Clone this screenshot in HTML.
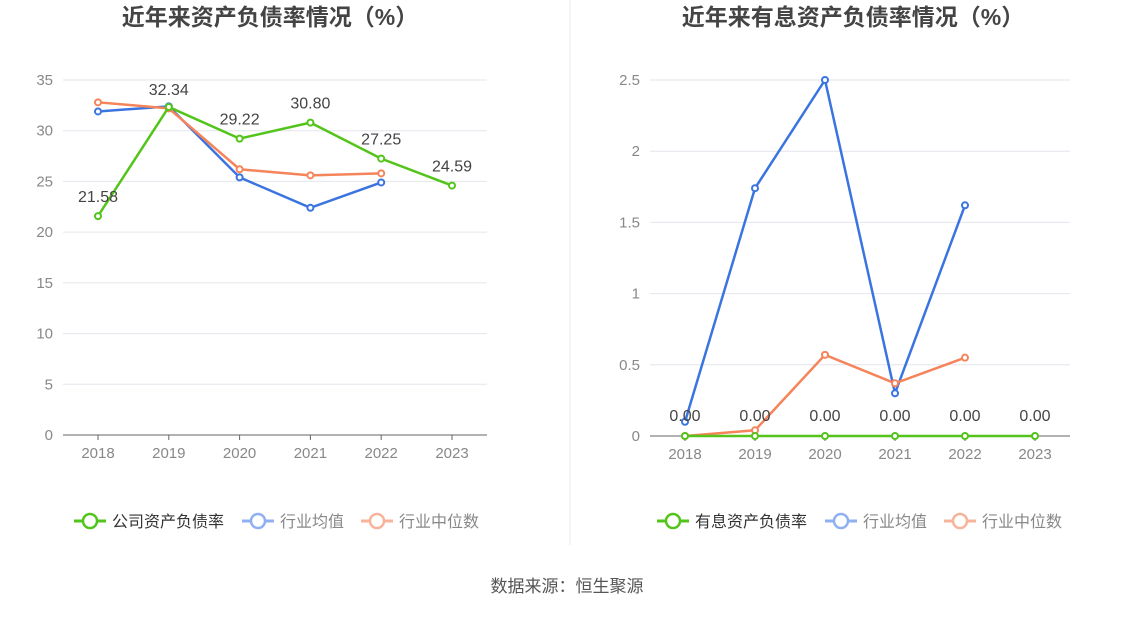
<!DOCTYPE html>
<html><head><meta charset="utf-8">
<style>
body{margin:0;background:#fff;font-family:"Liberation Sans","Noto Sans CJK SC",sans-serif;}
svg text{font-family:"Liberation Sans","Noto Sans CJK SC",sans-serif;}
</style></head>
<body>
<svg id="c" width="1134" height="612" xmlns="http://www.w3.org/2000/svg">
<line x1="570" y1="0" x2="570" y2="545" stroke="#e8e8e8"/>
<text x="567" y="592" text-anchor="middle" font-size="17" fill="#555">数据来源：恒生聚源</text>
</svg>
<script>
const years=["2018","2019","2020","2021","2022","2023"];
const leftCompany=[21.58,32.34,29.22,30.80,27.25,24.59];
const leftAvg=[31.9,32.4,25.4,22.4,24.9];
const leftMedian=[32.8,32.2,26.2,25.6,25.8];
const leftTicks=[0,5,10,15,20,25,30,35];
const rightCompany=[0,0,0,0,0,0];
const rightAvg=[0.1,1.74,2.5,0.3,1.62];
const rightMedian=[0.0,0.04,0.57,0.37,0.55];
const rightTicks=[0,0.5,1,1.5,2,2.5];
const svg=document.getElementById('c');
const NS="http://www.w3.org/2000/svg";
function mk(t,a,p){const e=document.createElementNS(NS,t);for(const k in a)e.setAttribute(k,a[k]);(p||svg).appendChild(e);return e;}
const GREEN="#52c41a",BLUE="#3a74e0",ORANGE="#f5845a";
function chart(o){
  const g=mk('g',{});
  
  
  const xs=i=>o.x0+o.step*i;
  const ys=v=>o.yb-(v/o.max)*(o.yb-o.yt);
  const t=mk('text',{x:o.cx,y:25,'text-anchor':'middle','font-size':23,'font-weight':'bold',fill:'#444'},g);
  t.textContent=o.title;
  
  
  o.ticks.forEach(v=>{
    const y=ys(v);
    if(v>0){const l=mk('line',{x1:o.xl,x2:o.xr,y1:y,y2:y,stroke:'#e3e6ee'},g);
      }
    const tx=mk('text',{x:o.xl-10,y:y+5,'text-anchor':'end','font-size':15,fill:'#888'},g);
    tx.textContent=String(v);
    
    
  });
  const ax=mk('line',{x1:o.xl,x2:o.xr,y1:o.yb,y2:o.yb,stroke:'#666'},g);
  
  years.forEach((yr,i)=>{
    const tk=mk('line',{x1:xs(i),x2:xs(i),y1:o.yb,y2:o.yb+5,stroke:'#666'},g);
    
    const tx=mk('text',{x:xs(i),y:o.yb+23,'text-anchor':'middle','font-size':15,fill:'#888'},g);
    tx.textContent=yr;
    
    
  });
  function series(vals,col,name,labels){
    const pts=vals.map((v,i)=>xs(i)+','+ys(v)).join(' ');
    const pl=mk('polyline',{points:pts,fill:'none',stroke:col,'stroke-width':2.5},g);
    
    vals.forEach((v,i)=>{
      const c=mk('circle',{cx:xs(i),cy:ys(v),r:3,fill:'#fff',stroke:col,'stroke-width':2},g);
      
      if(labels){
        const lt=mk('text',{x:xs(i),y:ys(v)+labels[i],'text-anchor':'middle','font-size':16,fill:'#444'},g);
        lt.textContent=v.toFixed(2);
        
        
      }
    });
  }
  series(o.avg,BLUE,'industry-average');
  series(o.med,ORANGE,'industry-median');
  series(o.comp,GREEN,'company',o.lblOff);
  o.legend.forEach((L,i)=>{
    const lg=mk('g',{},g);
    
    
    const x=L[2];
    mk('line',{x1:x,x2:x+32,y1:521,y2:521,stroke:L[1],'stroke-width':3},lg);
    mk('circle',{cx:x+16,cy:521,r:7,fill:'#fff',stroke:L[1],'stroke-width':2.5},lg);
    const tx=mk('text',{x:x+38,y:527,'font-size':16,fill:i==0?'#333':'#888'},lg);
    tx.textContent=L[0];
  });
}
chart({name:'asset-liability-chart',title:'近年来资产负债率情况（%）',cx:270,x0:98,step:70.8,xl:63,xr:487,yt:80,yb:435,max:35,ticks:leftTicks,
  comp:leftCompany,avg:leftAvg,med:leftMedian,lblOff:[-14,-12,-14,-14,-14,-14],
  legend:[['公司资产负债率',GREEN,74],['行业均值','#8fb0f0',242],['行业中位数','#f8b49a',361]]});
chart({name:'interest-bearing-chart',title:'近年来有息资产负债率情况（%）',cx:853,x0:685,step:70,xl:650,xr:1070,yt:80,yb:436,max:2.5,ticks:rightTicks,
  comp:rightCompany,avg:rightAvg,med:rightMedian,lblOff:[-15,-15,-15,-15,-15,-15],
  legend:[['有息资产负债率',GREEN,657],['行业均值','#8fb0f0',825],['行业中位数','#f8b49a',944]]});
</script>
</body></html>
